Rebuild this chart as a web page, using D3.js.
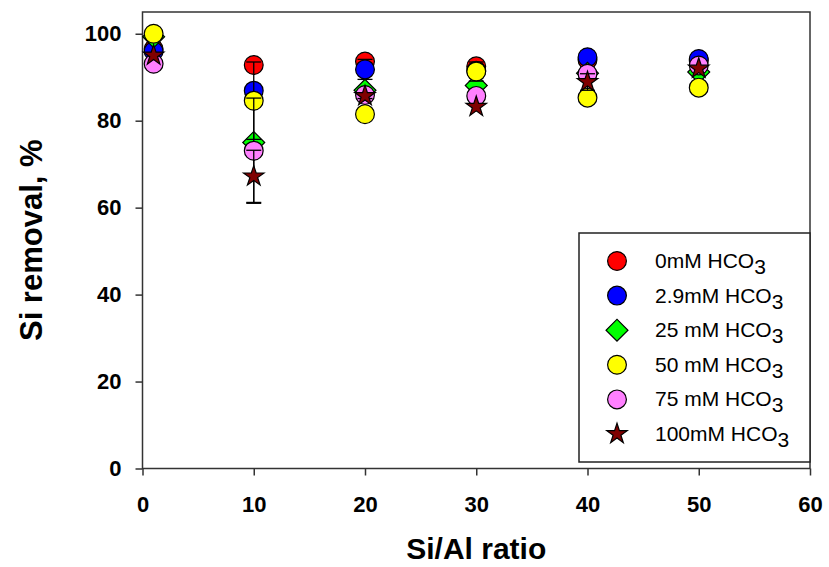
<!DOCTYPE html>
<html lang="en">
<head>
<meta charset="utf-8">
<script src="https://d3js.org/d3.v7.min.js"></script>
<style>
  body { margin: 0; background: #fff; }
  text { font-family: "Liberation Sans", Arial, sans-serif; }
</style>
</head>
<body>
<script>
var width = 829;
var height = 567;

// data
var ratios = [1, 10, 20, 30, 40, 50];
var seriesNames = ["0mM", "2.9mM", "25 mM", "50 mM", "75 mM", "100mM"];
var red_v    = [96.5, 92.8, 93.6, 92.5, 94.0, 93.8];
var blue_v   = [96.0, 86.9, 91.8, 91.5, 94.6, 94.2];
var green_v  = [99.3, 75.0, 87.0, 88.1, 90.9, 91.2];
var yellow_v = [100.0, 84.6, 81.5, 91.3, 85.3, 87.6];
var pink_v   = [93.1, 73.1, 85.9, 85.7, 90.8, 92.7];
var star_v   = [95.0, 67.2, 85.7, 83.2, 88.9, 92.0];

// error bars (0 = none)
var red_e    = [0, 0, 0, 0, 0, 0];
var blue_e   = [0, 0, 2.3, 0, 0, 0];
var green_e  = [0, 0, 0, 0, 0, 0];
var yellow_e = [0, 8.9, 0, 2.2, 0, 0];
var pink_e   = [0, 12.1, 0, 0, 0, 0];
var star_e   = [0, 6.0, 0.6, 0, 1.9, 0];

var xTicks = [0, 10, 20, 30, 40, 50, 60];
var yTicks = [0, 20, 40, 60, 80, 100];

var series = [
  { name: seriesNames[0], vals: red_v,    errs: red_e,    fill: "#ff0000", shape: "circle" },
  { name: seriesNames[1], vals: blue_v,   errs: blue_e,   fill: "#0000ff", shape: "circle" },
  { name: seriesNames[2], vals: green_v,  errs: green_e,  fill: "#00ff00", shape: "diamond" },
  { name: seriesNames[3], vals: yellow_v, errs: yellow_e, fill: "#ffff00", shape: "circle" },
  { name: seriesNames[4], vals: pink_v,   errs: pink_e,   fill: "#ff80ff", shape: "circle" },
  { name: seriesNames[5], vals: star_v,   errs: star_e,   fill: "#800000", shape: "star" }
];

// plot area edges
var pLeft = 142.5, pRight = 810, pTop = 12, pBottom = 468.5;

var x = d3.scaleLinear().domain([0, 60]).range([pLeft, pRight]);
var y = d3.scaleLinear().domain([0, 105]).range([pBottom, pTop]);

var svg = d3.select("body").append("svg")
  .attr("width", width)
  .attr("height", height);

function symbolPath(shape) {
  if (shape == "circle") return d3.symbol(d3.symbolCircle, Math.PI * 9.4 * 9.4)();
  if (shape == "diamond") return d3.symbol(d3.symbolSquare, 240)();
  return d3.symbol(d3.symbolStar, 130)();
}
function symbolRot(shape) { return shape == "diamond" ? " rotate(45)" : ""; }

// frame
svg.append("rect")
  .attr("x", pLeft).attr("y", pTop)
  .attr("width", pRight - pLeft).attr("height", pBottom - pTop)
  .attr("fill", "none").attr("stroke", "#333").attr("stroke-width", 1.5);

// axes
var xAxis = svg.append("g")
  .attr("transform", "translate(0," + pBottom + ")")
  .call(d3.axisBottom(x).tickValues(xTicks).tickSizeOuter(0).tickSizeInner(7).tickPadding(21));
var yAxis = svg.append("g")
  .attr("transform", "translate(" + pLeft + ",0)")
  .call(d3.axisLeft(y).tickValues(yTicks).tickSizeOuter(0).tickSizeInner(7).tickPadding(14));

[xAxis, yAxis].forEach(function(a) {
  a.select(".domain").remove();
  a.selectAll("line").attr("stroke", "#333").attr("stroke-width", 1.5);
  a.selectAll("text")
    .attr("fill", "#000")
    .style("font-size", "22px")
    .style("font-weight", "bold");
});

// axis titles
svg.append("text")
  .attr("x", (pLeft + pRight) / 2).attr("y", 559)
  .attr("text-anchor", "middle")
  .style("font-size", "30px").style("font-weight", "bold")
  .text("Si/Al ratio");

svg.append("text")
  .attr("transform", "translate(42," + ((pTop + pBottom) / 2) + ") rotate(-90)")
  .attr("text-anchor", "middle")
  .style("font-size", "31px").style("font-weight", "bold")
  .text("Si removal, %");

// each series: error bars, then its markers on top
var capW = 7.5;
series.forEach(function(s) {
  var g = svg.append("g");
  var pts = ratios.map(function(r, i) { return { x: r, v: s.vals[i], e: s.errs[i] }; });
  var eb = pts.filter(function(d) { return d.e > 0; });

  g.selectAll(".ev").data(eb).enter().append("line")
    .attr("x1", function(d) { return x(d.x); }).attr("x2", function(d) { return x(d.x); })
    .attr("y1", function(d) { return y(d.v + d.e); }).attr("y2", function(d) { return y(d.v - d.e); })
    .attr("stroke", "#000").attr("stroke-width", 1.3);
  g.selectAll(".et").data(eb).enter().append("line")
    .attr("x1", function(d) { return x(d.x) - capW; }).attr("x2", function(d) { return x(d.x) + capW; })
    .attr("y1", function(d) { return y(d.v + d.e); }).attr("y2", function(d) { return y(d.v + d.e); })
    .attr("stroke", "#000").attr("stroke-width", 1.3);
  g.selectAll(".eb").data(eb).enter().append("line")
    .attr("x1", function(d) { return x(d.x) - capW; }).attr("x2", function(d) { return x(d.x) + capW; })
    .attr("y1", function(d) { return y(d.v - d.e); }).attr("y2", function(d) { return y(d.v - d.e); })
    .attr("stroke", "#000").attr("stroke-width", 1.3);

  g.selectAll(".pt").data(pts).enter().append("path")
    .attr("d", symbolPath(s.shape))
    .attr("transform", function(d) { return "translate(" + x(d.x) + "," + y(d.v) + ")" + symbolRot(s.shape); })
    .attr("fill", s.fill)
    .attr("stroke", "#000").attr("stroke-width", 1.2);
});

// legend
var lg = svg.append("g");
lg.append("rect")
  .attr("x", 579).attr("y", 233)
  .attr("width", pRight - 579).attr("height", 229)
  .attr("fill", "#fff").attr("stroke", "#222").attr("stroke-width", 1.5);

series.forEach(function(s, i) {
  var ly = 261 + i * 34.6;
  lg.append("path")
    .attr("d", symbolPath(s.shape))
    .attr("transform", "translate(617," + ly + ")" + symbolRot(s.shape))
    .attr("fill", s.fill)
    .attr("stroke", "#000").attr("stroke-width", 1.2);
  var t = lg.append("text")
    .attr("x", 655).attr("y", ly + 7)
    .style("font-size", "21px").attr("fill", "#000");
  t.append("tspan").text(s.name + " HCO");
  t.append("tspan").attr("dy", 6).text("3");
});
</script>
</body>
</html>
